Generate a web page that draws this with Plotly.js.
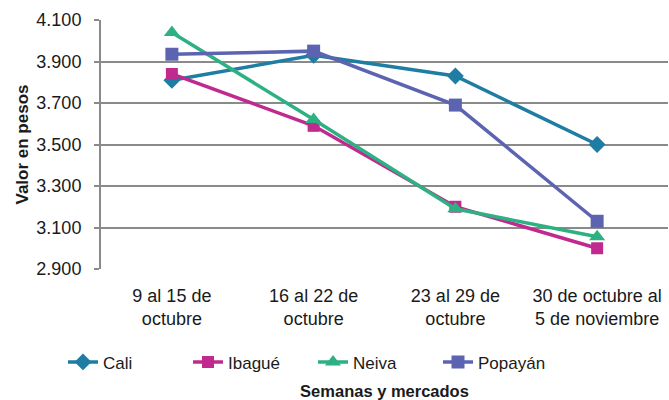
<!DOCTYPE html>
<html>
<head>
<meta charset="utf-8">
<script src="https://cdn.plot.ly/plotly-3.0.1.min.js"></script>
<style>html,body{margin:0;padding:0;background:#fff;}#chart{width:669px;height:400px;}</style>
</head>
<body>
<div id="chart"></div>
<script>
const categories = ["9 al 15 de<br>octubre", "16 al 22 de<br>octubre", "23 al 29 de<br>octubre", "30 de octubre al<br>5 de noviembre"];
const cali = [3810, 3930, 3830, 3500];
const ibague = [3840, 3590, 3200, 3000];
const neiva = [4040, 3620, 3190, 3055];
const popayan = [3935, 3950, 3690, 3130];
const yTicks = [2900, 3100, 3300, 3500, 3700, 3900, 4100];

const series = [
  {name: "Cali", y: cali, color: "#1f7ca3", symbol: "diamond", size: 13},
  {name: "Ibagué", y: ibague, color: "#c02a8e", symbol: "square", size: 12},
  {name: "Neiva", y: neiva, color: "#2db182", symbol: "triangle-up", size: 14},
  {name: "Popayán", y: popayan, color: "#5c64b2", symbol: "square", size: 13}
];

const data = series.map(s => ({
  type: "scatter", mode: "lines+markers", name: s.name,
  x: categories, y: s.y,
  line: {color: s.color, width: 3.5},
  marker: {color: s.color, symbol: s.symbol, size: s.size}
}));

const layout = {
  width: 669, height: 400,
  margin: {l: 101, r: 1, t: 20, b: 131},
  paper_bgcolor: "#fff", plot_bgcolor: "#fff",
  separators: ",.",
  font: {family: "Liberation Sans, Arial, sans-serif", size: 18, color: "#1a1a1a"},
  showlegend: true,
  legend: {orientation: "h", x: -0.067, xanchor: "left", y: -0.375, yanchor: "middle",
           font: {size: 17}, entrywidth: 80, entrywidthmode: "pixels", traceorder: "normal"},
  xaxis: {
    type: "category", range: [-0.5, 3.5],
    showgrid: false, showline: false, ticks: "", zeroline: false,
    tickfont: {size: 18}, ticklabelstandoff: 14,
    title: {text: "<b>Semanas y mercados</b>", font: {size: 16.5}, standoff: 58},
    automargin: false
  },
  yaxis: {
    range: [2900, 4100], tickvals: yTicks, tickformat: ",d",
    showgrid: true, gridcolor: "#8a8a8a", gridwidth: 2,
    showline: true, linecolor: "#8a8a8a", linewidth: 2,
    ticks: "outside", ticklen: 5, tickcolor: "#8a8a8a", tickwidth: 2,
    ticklabelstandoff: 9,
    zeroline: false, tickfont: {size: 18},
    title: {text: "<b>Valor en pesos</b>", font: {size: 17}, standoff: 3},
    automargin: false
  }
};

Plotly.newPlot("chart", data, layout, {displayModeBar: false, staticPlot: true});
</script>
</body>
</html>
